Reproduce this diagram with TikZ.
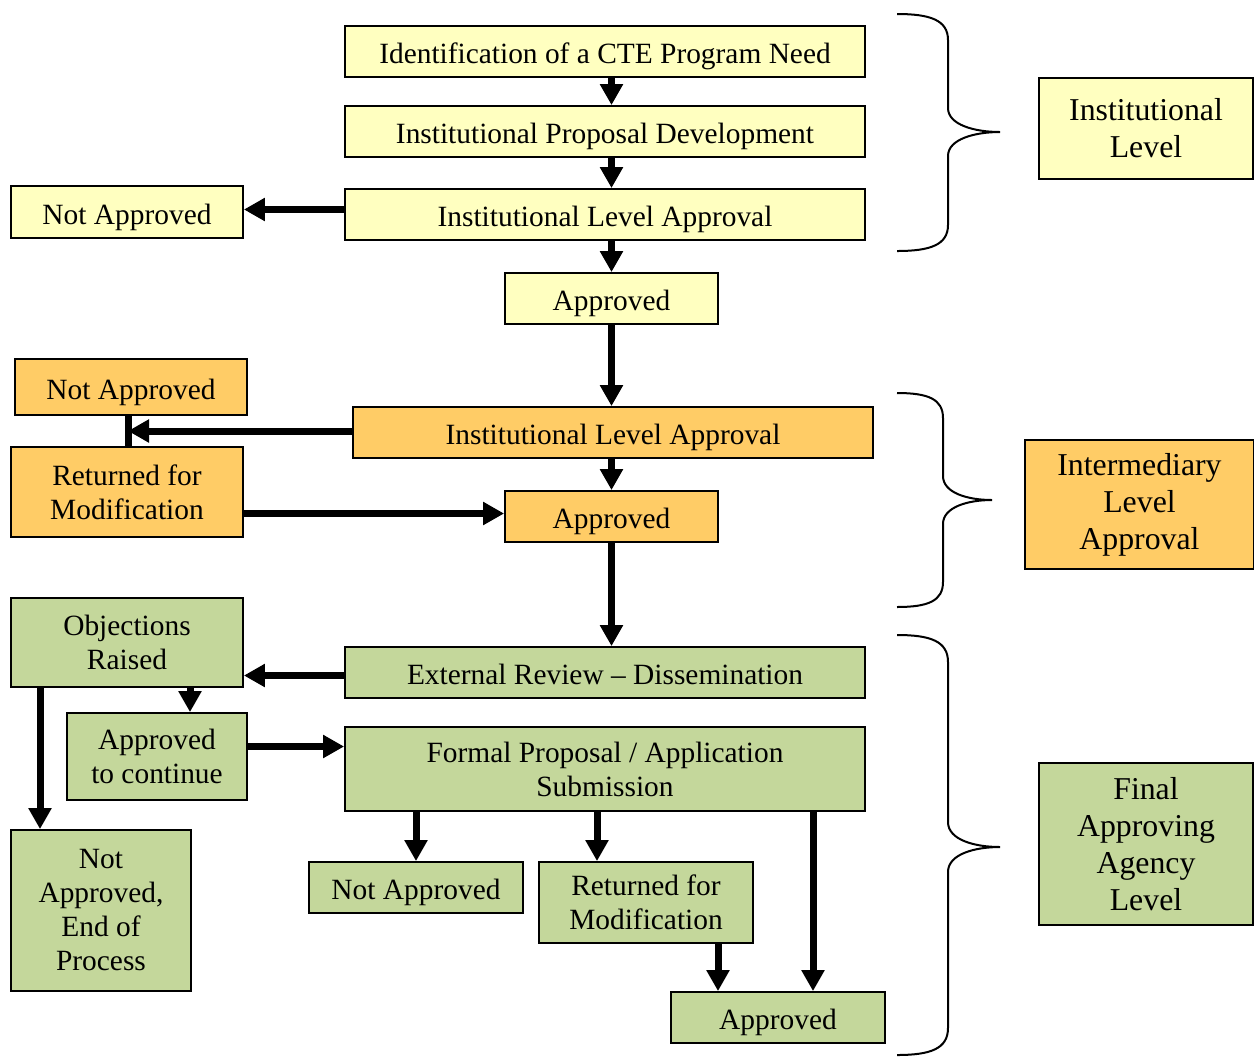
\documentclass[tikz,border=0pt]{standalone}
\usepackage{fontspec}
\setmainfont{Liberation Serif}
\usetikzlibrary{arrows.meta}
\definecolor{paleyellow}{RGB}{255,255,192}
\definecolor{paleorange}{RGB}{255,204,102}
\definecolor{palegreen}{RGB}{196,215,155}

\begin{document}
\begin{tikzpicture}[x=0.5pt,y=-0.5pt,
    oneline/.style={text height=12pt,text depth=0pt},
    levelbox/.style={font=\fontsize{15.9}{18.5}\selectfont}]

      \useasboundingbox (0,0) rectangle (1254,1057);

      \begin{scope}[every node/.style={rectangle,draw,line width=0.9pt,inner sep=0pt,align=center,font=\fontsize{14.7}{17}\selectfont}]
        \node[fill=paleyellow,oneline,minimum width=260pt,minimum height=25.5pt] (1) at (605,51.5) {Identification of a CTE Program Need};
        \node[fill=paleyellow,oneline,minimum width=260pt,minimum height=25.5pt] (2) at (605,131.5) {Institutional Proposal Development};
        \node[fill=paleyellow,oneline,minimum width=260pt,minimum height=25.5pt] (3) at (605,214.5) {Institutional Level Approval};
        \node[fill=paleyellow,oneline,minimum width=116pt,minimum height=26pt] (4) at (127,212) {Not Approved};
        \node[fill=paleyellow,oneline,minimum width=106.5pt,minimum height=25.5pt] (5) at (611.5,298.5) {Approved};
        \node[fill=paleyellow,levelbox,minimum width=107pt,minimum height=50.5pt] (6) at (1146,128.5) {Institutional\\Level};

        \node[fill=paleorange,oneline,minimum width=116pt,minimum height=28pt] (7) at (131,387) {Not Approved};
        \node[fill=paleorange,oneline,minimum width=260pt,minimum height=25.5pt] (8) at (613,432.5) {Institutional Level Approval};
        \node[fill=paleorange,minimum width=116pt,minimum height=45pt] (9) at (127,492) {Returned for\\Modification};
        \node[fill=paleorange,oneline,minimum width=106.5pt,minimum height=25.5pt] (10) at (611.5,516.5) {Approved};
        \node[fill=paleorange,levelbox,minimum width=114.5pt,minimum height=64.5pt] (11) at (1139.5,504.5) {Intermediary\\Level\\Approval};

        \node[fill=palegreen,minimum width=116pt,minimum height=44.5pt] (12) at (127,642.5) {Objections\\Raised};
        \node[fill=palegreen,oneline,minimum width=260pt,minimum height=25.5pt] (13) at (605,672.5) {External Review -- Dissemination};
        \node[fill=palegreen,minimum width=90pt,minimum height=43.5pt] (14) at (157,756.5) {Approved\\to continue};
        \node[fill=palegreen,minimum width=260pt,minimum height=42pt] (15) at (605,769) {Formal Proposal / Application\\Submission};
        \node[fill=palegreen,minimum width=90pt,minimum height=80.5pt] (16) at (101,910.5) {Not\\Approved,\\End of\\Process};
        \node[fill=palegreen,oneline,minimum width=107pt,minimum height=25.5pt] (17) at (416,887.5) {Not Approved};
        \node[fill=palegreen,minimum width=107pt,minimum height=40.5pt] (18) at (646,902.5) {Returned for\\Modification};
        \node[fill=palegreen,oneline,minimum width=107pt,minimum height=25.5pt] (19) at (778,1017.5) {Approved};
        \node[fill=palegreen,levelbox,minimum width=107pt,minimum height=81pt] (20) at (1146,844) {Final\\Approving\\Agency\\Level};
      \end{scope}

      \coordinate (j) at (128,431);
      \coordinate (a) at ([xshift=31.5pt]12.south);
      \coordinate (b) at ([xshift=-43.5pt]12.south);
      \coordinate (c) at ([yshift=5pt]14.east);
      \coordinate (d) at ([xshift=-24.5pt]18.north);
      \coordinate (e) at ([xshift=17.5pt]19.north);
      \coordinate (f) at ([xshift=36pt]18.south);
      \coordinate (g) at ([yshift=2.5pt]3.west);
      \coordinate (h) at ([yshift=1.5pt]10.west);
      \coordinate (k) at ([yshift=-1.5pt]13.west);

      \begin{scope}[every edge/.style={draw,line width=3.5pt,-{Triangle[length=10.5pt,width=11pt]}}]
        \path (5.north |- 1.south) edge (5.north |- 2.north);
        \path (5.north |- 2.south) edge (5.north |- 3.north);
        \path (5.north |- 3.south) edge (5.north);
        \path (g)  edge (g -| 4.east);
        \path (5)  edge (5.south |- 8.north);
        \path (j -| 8.west) edge (j);
        \path (h -| 9.east) edge (h);
        \path (10.north |- 8.south) edge (10.north);
        \path (10) edge (10.south |- 13.north);
        \path (k)  edge (k -| 12.east);
        \path (a)  edge (a |- 14.north);
        \path (b)  edge (b |- 16.north);
        \path (c)  edge (c -| 15.west);
        \path (15.south -| 17.north) edge (17.north);
        \path (d |- 15.south) edge (d);
        \path (e |- 15.south) edge (e);
        \path (f)  edge (f |- 19.north);
      \end{scope}

      \draw[line width=3.5pt] (7.south -| j) -- (9.north -| j);

      \begin{scope}[line width=1pt]
        \draw (897,14) .. controls (930,14) and (948,20) .. (948,40) -- (948,108)
          .. controls (948,125) and (975,132) .. (1000,132)
          .. controls (975,132) and (948,139) .. (948,156) -- (948,225)
          .. controls (948,245) and (930,251) .. (897,251);
        \draw (897,393) .. controls (928,393) and (943,399) .. (943,418) -- (943,476)
          .. controls (943,493) and (968,500) .. (992,500)
          .. controls (968,500) and (943,507) .. (943,524) -- (943,582)
          .. controls (943,601) and (928,607) .. (897,607);
        \draw (897,635) .. controls (930,635) and (948,641) .. (948,662) -- (948,822)
          .. controls (948,840) and (975,847) .. (1000,847)
          .. controls (975,847) and (948,854) .. (948,872) -- (948,1028)
          .. controls (948,1049) and (930,1055) .. (897,1055);
      \end{scope}

    \end{tikzpicture}
\end{document}
